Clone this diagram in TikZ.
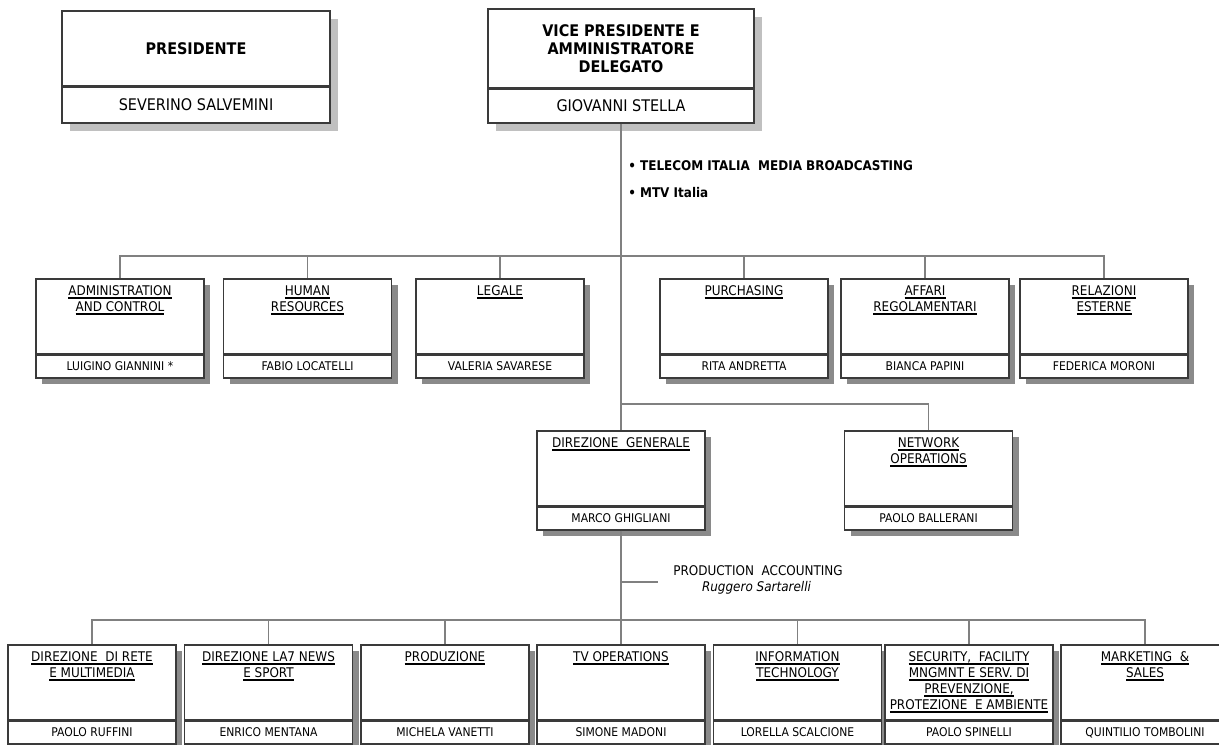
\documentclass[tikz,border=0pt]{standalone}
\usepackage{fontspec}
\setmainfont{DejaVu Sans}[FakeStretch=0.9]
\usepackage{tikz}
\usetikzlibrary{positioning,shadows}
\definecolor{bord}{HTML}{3A3A3A}
\definecolor{lnc}{HTML}{808080}
\definecolor{shdl}{HTML}{C0C0C0}
\definecolor{shdd}{HTML}{8A8A8A}
\newsavebox{\ulbox}
\newcommand{\uln}[1]{\sbox{\ulbox}{#1}\rlap{\rule[-2.2pt]{\wd\ulbox}{1.2pt}}\usebox{\ulbox}}

\begin{document}
\begin{tikzpicture}[x=0.75pt,y=-0.75pt,
    topbox/.style={draw=bord,line width=1.1pt,fill=white,inner sep=0pt,align=center,
      drop shadow={shadow xshift=6pt,shadow yshift=-6pt,fill=shdl,opacity=1}},
    ubox/.style={draw=bord,line width=1.1pt,fill=white,inner sep=0pt,
      minimum width=126pt,minimum height=57pt,
      drop shadow={shadow xshift=4.5pt,shadow yshift=-4.5pt,fill=shdd,opacity=1}},
    pbox/.style={ubox,minimum height=17.25pt,font=\fontsize{9}{11}\selectfont},
    ttl/.style={inner sep=0pt,align=center,font=\fontsize{10}{12}\selectfont},
    conn/.style={draw=lnc,line width=1.1pt},
    divl/.style={draw=bord,line width=1.6pt}]
  \useasboundingbox (0,0) rectangle (1219,744);

  % top
  \path
  (196,49) node[topbox,minimum width=201pt,minimum height=57pt,
    font=\bfseries\fontsize{12}{14}\selectfont] (pres) {PRESIDENTE}
  (196,105) node[topbox,minimum width=201pt,minimum height=27pt,
    font=\fontsize{12}{14}\selectfont] (presn) {SEVERINO SALVEMINI}
  (621,49) node[topbox,minimum width=199.5pt,minimum height=60pt,
    font=\bfseries\fontsize{12}{13.5}\selectfont] (vp) {VICE PRESIDENTE E\\AMMINISTRATORE\\DELEGATO}
  (621,106) node[topbox,minimum width=199.5pt,minimum height=25.5pt,
    font=\fontsize{12}{14}\selectfont] (vpn) {GIOVANNI STELLA}
  ;
  \path
  (628,166) node[anchor=west,inner sep=0pt,font=\bfseries\fontsize{10}{12}\selectfont] (tmb)
    {• TELECOM ITALIA~ MEDIA BROADCASTING}
  (628,193) node[anchor=west,inner sep=0pt,font=\bfseries\fontsize{10}{12}\selectfont] (mtv)
    {• MTV Italia}
  ;

  % first row
  \path
  (120,317) node[ubox] (adm) {}
  (120,366.5) node[pbox] (admn) {LUIGINO GIANNINI *}
  (307.5,317) node[ubox] (hr) {}
  (307.5,366.5) node[pbox] (hrn) {FABIO LOCATELLI}
  (500,317) node[ubox] (leg) {}
  (500,366.5) node[pbox] (legn) {VALERIA SAVARESE}
  (744,317) node[ubox] (pur) {}
  (744,366.5) node[pbox] (purn) {RITA ANDRETTA}
  (925,317) node[ubox] (aff) {}
  (925,366.5) node[pbox] (affn) {BIANCA PAPINI}
  (1104,317) node[ubox] (rel) {}
  (1104,366.5) node[pbox] (reln) {FEDERICA MORONI}
  ;
  \node[ttl,below=5.5pt of adm.north] (admt) {\uln{ADMINISTRATION}\\\uln{AND CONTROL}};
  \node[ttl,below=5.5pt of hr.north] (hrt) {\uln{HUMAN}\\\uln{RESOURCES}};
  \node[ttl,below=5.5pt of leg.north] (legt) {\uln{LEGALE}};
  \node[ttl,below=5.5pt of pur.north] (purt) {\uln{PURCHASING}};
  \node[ttl,below=5.5pt of aff.north] (afft) {\uln{AFFARI}\\\uln{REGOLAMENTARI}};
  \node[ttl,below=5.5pt of rel.north] (relt) {\uln{RELAZIONI}\\\uln{ESTERNE}};

  % second row
  \path
  (621,469) node[ubox] (dg) {}
  (621,518.5) node[pbox] (dgn) {MARCO GHIGLIANI}
  (928.5,469) node[ubox] (net) {}
  (928.5,518.5) node[pbox] (netn) {PAOLO BALLERANI}
  ;
  \node[ttl,below=5.5pt of dg.north] (dgt) {\uln{DIREZIONE~ GENERALE}};
  \node[ttl,below=5.5pt of net.north] (nett) {\uln{NETWORK}\\\uln{OPERATIONS}};

  \path
  (673,571) node[anchor=west,inner sep=0pt,font=\fontsize{10}{12}\selectfont] (pacc)
    {PRODUCTION~ ACCOUNTING}
  (756.5,588) node[inner sep=0pt,font=\itshape\fontsize{10}{12}\selectfont] (pacn)
    {Ruggero Sartarelli}
  ;

  % third row
  \path
  (92,683) node[ubox] (rete) {}
  (92,732.5) node[pbox] (reten) {PAOLO RUFFINI}
  (268.5,683) node[ubox] (news) {}
  (268.5,732.5) node[pbox] (newsn) {ENRICO MENTANA}
  (445,683) node[ubox] (prod) {}
  (445,732.5) node[pbox] (prodn) {MICHELA VANETTI}
  (621,683) node[ubox] (tvo) {}
  (621,732.5) node[pbox] (tvon) {SIMONE MADONI}
  (797.5,683) node[ubox] (it) {}
  (797.5,732.5) node[pbox] (itn) {LORELLA SCALCIONE}
  (969,683) node[ubox] (sec) {}
  (969,732.5) node[pbox] (secn) {PAOLO SPINELLI}
  (1145,683) node[ubox] (mkt) {}
  (1145,732.5) node[pbox] (mktn) {QUINTILIO TOMBOLINI}
  ;
  \node[ttl,below=5.5pt of rete.north] (retet) {\uln{DIREZIONE~ DI RETE}\\\uln{E MULTIMEDIA}};
  \node[ttl,below=5.5pt of news.north] (newst) {\uln{DIREZIONE LA7 NEWS}\\\uln{E SPORT}};
  \node[ttl,below=5.5pt of prod.north] (prodt) {\uln{PRODUZIONE}};
  \node[ttl,below=5.5pt of tvo.north] (tvot) {\uln{TV OPERATIONS}};
  \node[ttl,below=5.5pt of it.north] (itt) {\uln{INFORMATION}\\\uln{TECHNOLOGY}};
  \node[ttl,below=5.5pt of sec.north] (sect) {\uln{SECURITY,~ FACILITY}\\\uln{MNGMNT E SERV. DI}\\
    \uln{PREVENZIONE,}\\\uln{PROTEZIONE~ E AMBIENTE}};
  \node[ttl,below=5.5pt of mkt.north] (mktt) {\uln{MARKETING~ \&}\\\uln{SALES}};

  % lines
  \coordinate (b1) at (621,256);
  \coordinate (b2) at (621,404);
  \coordinate (b3) at (621,620);
  \coordinate (pa1) at (621,582);
  \coordinate (pa2) at (658,582);
  \draw[conn] (vpn.south) -- (dg.north);
  \draw[conn] (dgn.south) -- (tvo.north);
  \foreach \n in {adm,hr,leg,pur,aff,rel}
    \draw[conn] (b1) -| (\n.north);
  \draw[conn] (b2) -| (net.north);
  \foreach \n in {rete,news,prod,it,sec,mkt}
    \draw[conn] (b3) -| (\n.north);
  \draw[conn] (pa1) -- (pa2);

  \foreach \n in {pres,vp,adm,hr,leg,pur,aff,rel,dg,net,rete,news,prod,tvo,it,sec,mkt}
    \draw[divl] (\n n.north west) -- (\n n.north east);
\end{tikzpicture}
\end{document}
